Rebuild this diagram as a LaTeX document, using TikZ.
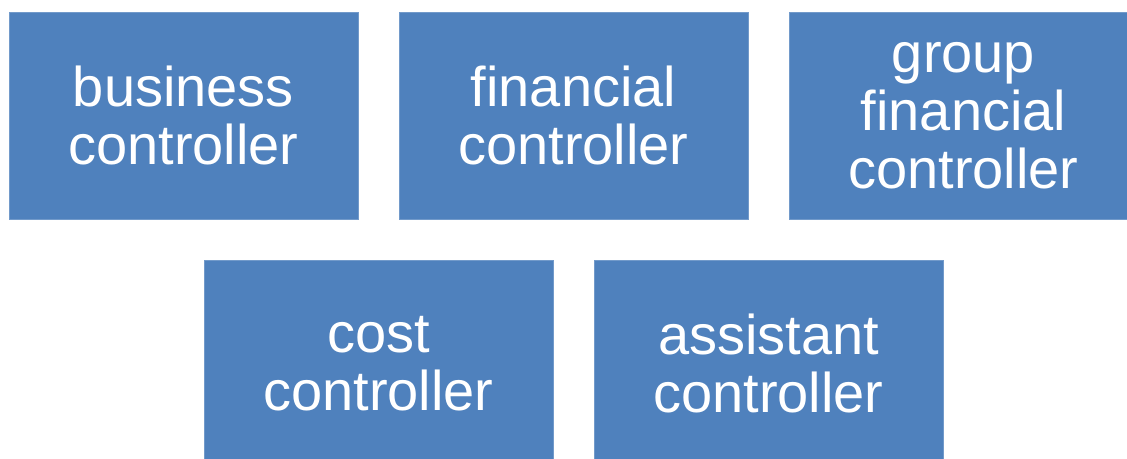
\documentclass[tikz,border=0pt]{standalone}
\usepackage{fontspec}
\setmainfont{Liberation Sans}
\usepackage{tikz}
\usetikzlibrary{positioning}
\definecolor{boxblue}{RGB}{79,129,189}

\begin{document}
\begin{tikzpicture}[x=1pt,y=-1pt,
    role/.style={fill=boxblue, draw=boxblue!80!white, line width=0.8pt,
      text=white, align=center, inner sep=0pt,
      minimum width=349pt, minimum height=207pt,
      font=\fontsize{56}{58}\selectfont}]

    \useasboundingbox (0,0) rectangle (1127,458);
    \clip (0,0) rectangle (1127,458);

    % top row
    \node[role] at (183.5,115.5) (business) {business\\controller};
    \node[role] at (573.5,115.5) (financial) {financial\\controller};
    \node[role] at (963.5,115.5) (group) {group\\financial\\controller};

    % bottom row
    \node[role] at (378.5,363.5) (cost) {cost\\controller};
    \node[role] at (768.5,363.5) (assistant) {assistant\\controller};

\end{tikzpicture}
\end{document}
